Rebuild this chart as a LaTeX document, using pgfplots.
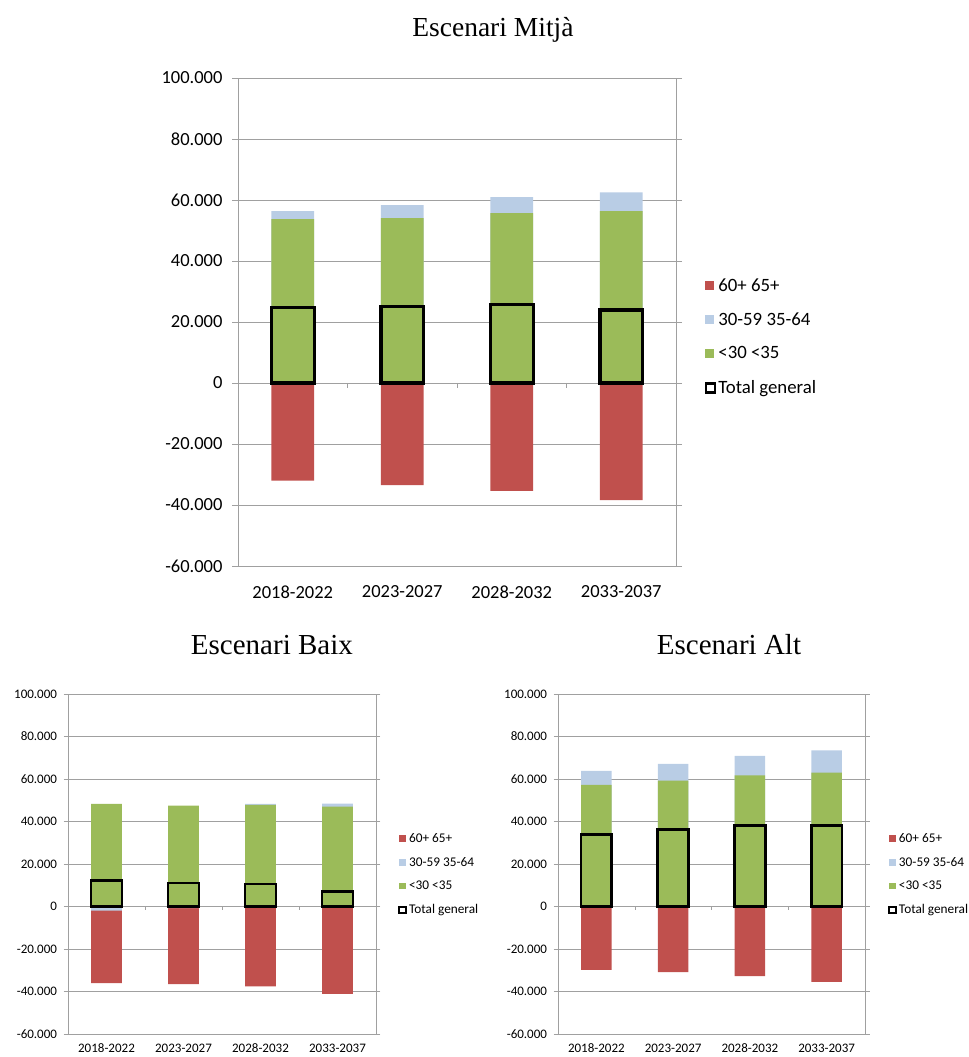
\documentclass[border=0pt]{standalone}
\usepackage{pgfplots}
\usepackage{pgfplotstable}
\pgfplotsset{compat=1.18}
\usepackage{fontspec}
\setmainfont{Carlito}
\newfontfamily\titlefont{Liberation Serif}
\definecolor{cRed}{HTML}{C0504D}
\definecolor{cBlue}{HTML}{B9CDE5}
\definecolor{cGreen}{HTML}{9BBB59}
\definecolor{cGrid}{HTML}{A0A0A0}

% x: category; green: top of <30 <35; blue: top of 30-59 35-64 (negative when below 0);
% red: bottom of 60+ 65+; total: Total general
\pgfplotstableread{
x green blue red total
0 53700 56340 -32000 24700
1 54040 58300 -33500 25040
2 55690 60960 -35400 25700
3 56340 62500 -38400 23950
}\mitja
\pgfplotstableread{
x green blue red total
0 48280 -2000 -36050 12230
1 47490 -800 -36520 11100
2 47800 48280 -37620 10550
3 47020 48430 -41070 7150
}\baix
\pgfplotstableread{
x green blue red total
0 57210 63790 -29780 33800
1 59250 67080 -30880 36300
2 61760 70850 -32760 38200
3 63010 73510 -35420 38200
}\alt

\pgfplotsset{
  esc/.style={
    scale only axis,
    ymin=-60000, ymax=100000,
    xmin=-0.5, xmax=3.5,
    scaled y ticks=false,
    ytick={-60000,-40000,-20000,0,20000,40000,60000,80000,100000},
    yticklabels={-60.000,-40.000,-20.000,0,20.000,40.000,60.000,80.000,100.000},
    xtick={0,1,2,3},
    xticklabels={2018-2022,2023-2027,2028-2032,2033-2037},
    x tick style={draw=none},
    y tick style={cGrid},
    tick align=outside,
    axis line style={cGrid},
    ymajorgrids,
    grid style={cGrid, line width=0.8bp},
    legend cell align=left,
    legend style={draw=none, fill=none},
  },
}

\begin{document}
\begin{tikzpicture}
\path[use as bounding box] (0,0) rectangle (969bp,1057bp);

% ---------------- Escenari Mitjà ----------------
\begin{axis}[esc,
  at={(238bp,491bp)}, anchor=south west,
  width=438bp, height=488bp,
  bar width=0.39,
  major tick length=6bp,
  tick label style={font=\fontsize{18.5bp}{22bp}\selectfont},
  yticklabel style={xshift=-6bp},
  xticklabel style={yshift=-10bp},
  title={Escenari Mitjà},
  title style={at={(0.582,1)}, anchor=base, yshift=36bp, font=\titlefont\fontsize{27.5bp}{30bp}\selectfont},
  legend style={at={(1.058,0.47)}, anchor=west, font=\fontsize{18.8bp}{21bp}\selectfont, row sep=16bp},
]
\addplot[ybar, bar shift=0pt, fill=cRed, draw=none,
  legend image code/.code={\fill[cRed] (0bp,-4.5bp) rectangle (9bp,4.5bp);}] table[x=x,y=red] {\mitja};
\addlegendentry{60+ 65+}
\addplot[ybar, bar shift=0pt, fill=cBlue, draw=none,
  legend image code/.code={\fill[cBlue] (0bp,-4.5bp) rectangle (9bp,4.5bp);}] table[x=x,y=blue] {\mitja};
\addlegendentry{30-59 35-64}
\addplot[ybar, bar shift=0pt, fill=cGreen, draw=none,
  legend image code/.code={\fill[cGreen] (0bp,-4.5bp) rectangle (9bp,4.5bp);}] table[x=x,y=green] {\mitja};
\addlegendentry{<30 <35}
\addplot[ybar, bar shift=0pt, fill=none, draw=black, line width=3.2bp,
  legend image code/.code={\draw[black, fill=white, line width=2.8bp] (0.5bp,-4.5bp) rectangle (9.5bp,4.5bp);}] table[x=x,y=total] {\mitja};
\addlegendentry{Total general}
\draw[cGrid] (axis cs:0.5,0) -- ([yshift=-5bp]axis cs:0.5,0)
             (axis cs:1.5,0) -- ([yshift=-5bp]axis cs:1.5,0)
             (axis cs:2.5,0) -- ([yshift=-5bp]axis cs:2.5,0);
\end{axis}

% ---------------- Escenari Baix ----------------
\begin{axis}[esc,
  at={(68bp,23bp)}, anchor=south west,
  width=308bp, height=340bp,
  bar width=0.4,
  major tick length=4.5bp,
  tick label style={font=\fontsize{13bp}{15bp}\selectfont},
  yticklabel style={xshift=-3bp},
  xticklabel style={yshift=-2bp},
  title={Escenari Baix},
  title style={at={(0.662,1)}, anchor=base, yshift=34bp, font=\titlefont\fontsize{29bp}{32bp}\selectfont},
  legend style={at={(1.062,0.47)}, anchor=west, font=\fontsize{13.3bp}{15bp}\selectfont, row sep=9.5bp},
]
\addplot[ybar, bar shift=0pt, fill=cRed, draw=none,
  legend image code/.code={\fill[cRed] (0bp,-3.3bp) rectangle (6.6bp,3.3bp);}] table[x=x,y=red] {\baix};
\addlegendentry{60+ 65+}
\addplot[ybar, bar shift=0pt, fill=cBlue, draw=none,
  legend image code/.code={\fill[cBlue] (0bp,-3.3bp) rectangle (6.6bp,3.3bp);}] table[x=x,y=blue] {\baix};
\addlegendentry{30-59 35-64}
\addplot[ybar, bar shift=0pt, fill=cGreen, draw=none,
  legend image code/.code={\fill[cGreen] (0bp,-3.3bp) rectangle (6.6bp,3.3bp);}] table[x=x,y=green] {\baix};
\addlegendentry{<30 <35}
\addplot[ybar, bar shift=0pt, fill=none, draw=black, line width=2.6bp,
  legend image code/.code={\draw[black, fill=white, line width=2.2bp] (0.3bp,-3.3bp) rectangle (6.9bp,3.3bp);}] table[x=x,y=total] {\baix};
\addlegendentry{Total general}
\draw[cGrid] (axis cs:0.5,0) -- ([yshift=-4bp]axis cs:0.5,0)
             (axis cs:1.5,0) -- ([yshift=-4bp]axis cs:1.5,0)
             (axis cs:2.5,0) -- ([yshift=-4bp]axis cs:2.5,0);
\end{axis}

% ---------------- Escenari Alt ----------------
\begin{axis}[esc,
  at={(558bp,23bp)}, anchor=south west,
  width=307bp, height=340bp,
  bar width=0.4,
  major tick length=4.5bp,
  tick label style={font=\fontsize{13bp}{15bp}\selectfont},
  yticklabel style={xshift=-3bp},
  xticklabel style={yshift=-2bp},
  title={Escenari Alt},
  title style={at={(0.557,1)}, anchor=base, yshift=34bp, font=\titlefont\fontsize{29bp}{32bp}\selectfont},
  legend style={at={(1.065,0.47)}, anchor=west, font=\fontsize{13.3bp}{15bp}\selectfont, row sep=9.5bp},
]
\addplot[ybar, bar shift=0pt, fill=cRed, draw=none,
  legend image code/.code={\fill[cRed] (0bp,-3.3bp) rectangle (6.6bp,3.3bp);}] table[x=x,y=red] {\alt};
\addlegendentry{60+ 65+}
\addplot[ybar, bar shift=0pt, fill=cBlue, draw=none,
  legend image code/.code={\fill[cBlue] (0bp,-3.3bp) rectangle (6.6bp,3.3bp);}] table[x=x,y=blue] {\alt};
\addlegendentry{30-59 35-64}
\addplot[ybar, bar shift=0pt, fill=cGreen, draw=none,
  legend image code/.code={\fill[cGreen] (0bp,-3.3bp) rectangle (6.6bp,3.3bp);}] table[x=x,y=green] {\alt};
\addlegendentry{<30 <35}
\addplot[ybar, bar shift=0pt, fill=none, draw=black, line width=2.6bp,
  legend image code/.code={\draw[black, fill=white, line width=2.2bp] (0.3bp,-3.3bp) rectangle (6.9bp,3.3bp);}] table[x=x,y=total] {\alt};
\addlegendentry{Total general}
\draw[cGrid] (axis cs:0.5,0) -- ([yshift=-4bp]axis cs:0.5,0)
             (axis cs:1.5,0) -- ([yshift=-4bp]axis cs:1.5,0)
             (axis cs:2.5,0) -- ([yshift=-4bp]axis cs:2.5,0);
\end{axis}
\end{tikzpicture}
\end{document}
